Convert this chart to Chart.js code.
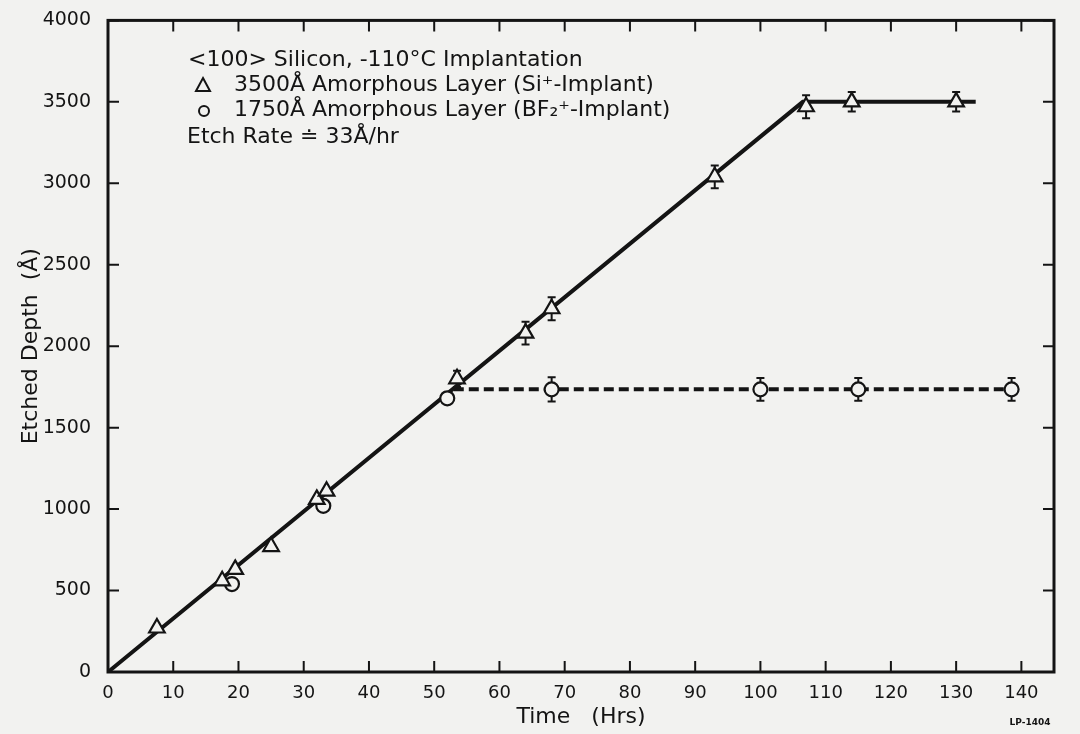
<!DOCTYPE html>
<html>
<head>
<meta charset="utf-8">
<title>Etched Depth vs Time</title>
<script src="https://cdn.jsdelivr.net/npm/chart.js@4/dist/chart.umd.min.js"></script>
<style>
  html, body { margin: 0; padding: 0; background: #f2f2f0; }
  canvas { display: block; }
</style>
</head>
<body>
<canvas id="chart" width="1080" height="734"></canvas>
<script>
// Si+ implant (triangles), 3500 A amorphous layer
const siTime  = [7.5, 17.5, 19.5, 25, 32, 33.5, 53.5, 64, 68, 93, 107, 114, 130];
const siDepth = [270, 560, 630, 770, 1060, 1110, 1800, 2080, 2230, 3040, 3470, 3500, 3500];
const siErr   = [0, 0, 0, 0, 0, 0, 50, 70, 70, 70, 70, 60, 60];

// BF2+ implant (circles), 1750 A amorphous layer
const bfTime  = [19, 33, 52, 68, 100, 115, 138.5];
const bfDepth = [540, 1020, 1680, 1735, 1735, 1735, 1735];
const bfErr   = [0, 0, 35, 75, 70, 70, 70];

// fitted etch lines (33 A/hr, then saturation)
const siFitTime  = [0, 106.5, 133];
const siFitDepth = [0, 3500, 3500];
const bfFitTime  = [53, 139];
const bfFitDepth = [1735, 1735];

const xTicks = [0, 10, 20, 30, 40, 50, 60, 70, 80, 90, 100, 110, 120, 130, 140];
const yTicks = [0, 500, 1000, 1500, 2000, 2500, 3000, 3500, 4000];

const legendLines = [
  '<100> Silicon, -110\u00B0C Implantation',
  '3500\u00C5 Amorphous Layer (Si\u207A-Implant)',
  '1750\u00C5 Amorphous Layer (BF\u2082\u207A-Implant)',
  'Etch Rate \u2250 33\u00C5/hr'
];

const INK = '#141414';
const PAPER = '#f2f2f0';
const FONT = "'DejaVu Sans', sans-serif";

const pts = (xs, ys) => xs.map((x, i) => ({ x: x, y: ys[i] }));

// error bars under the markers
const errorBars = {
  id: 'errorBars',
  beforeDatasetsDraw(chart) {
    const { ctx, scales: { x, y } } = chart;
    ctx.save();
    ctx.strokeStyle = INK;
    ctx.lineWidth = 2;
    const draw = (xs, ys, es) => xs.forEach((t, i) => {
      if (!es[i]) return;
      const px = x.getPixelForValue(t);
      const top = y.getPixelForValue(ys[i] + es[i]);
      const bot = y.getPixelForValue(ys[i] - es[i]);
      ctx.beginPath();
      ctx.moveTo(px, top); ctx.lineTo(px, bot);
      ctx.moveTo(px - 4, top); ctx.lineTo(px + 4, top);
      ctx.moveTo(px - 4, bot); ctx.lineTo(px + 4, bot);
      ctx.stroke();
    });
    draw(siTime, siDepth, siErr);
    draw(bfTime, bfDepth, bfErr);
    ctx.restore();
  }
};

// box frame with inward ticks on all four sides, plus the key text
const frame = {
  id: 'frame',
  afterDraw(chart) {
    const { ctx, chartArea: a, scales: { x, y } } = chart;
    ctx.save();
    ctx.strokeStyle = INK;
    ctx.lineWidth = 3;
    ctx.strokeRect(a.left, a.top, a.right - a.left, a.bottom - a.top);

    ctx.lineWidth = 2;
    ctx.beginPath();
    xTicks.forEach(v => {
      const px = x.getPixelForValue(v);
      ctx.moveTo(px, a.bottom); ctx.lineTo(px, a.bottom - 11);
      ctx.moveTo(px, a.top); ctx.lineTo(px, a.top + 11);
    });
    yTicks.forEach(v => {
      const py = y.getPixelForValue(v);
      ctx.moveTo(a.left, py); ctx.lineTo(a.left + 11, py);
      ctx.moveTo(a.right, py); ctx.lineTo(a.right - 11, py);
    });
    ctx.stroke();

    // key
    ctx.fillStyle = INK;
    ctx.textBaseline = 'middle';
    ctx.font = '22px ' + FONT;
    ctx.fillText(legendLines[0], 188, 60);
    ctx.fillText(legendLines[1], 234, 85);
    ctx.fillText(legendLines[2], 234, 110);
    ctx.fillText(legendLines[3], 187, 137);

    // key symbols
    ctx.lineWidth = 2;
    ctx.beginPath();
    ctx.moveTo(203, 78); ctx.lineTo(210, 91); ctx.lineTo(196, 91); ctx.closePath();
    ctx.stroke();
    ctx.beginPath();
    ctx.arc(204, 111, 5, 0, Math.PI * 2);
    ctx.stroke();

    ctx.font = 'bold 9px ' + FONT;
    ctx.textAlign = 'center';
    ctx.fillText('LP-1404', 1030, 723);
    ctx.restore();
  }
};

new Chart(document.getElementById('chart'), {
  type: 'scatter',
  data: {
    datasets: [
      {
        label: 'Si+',
        data: pts(siTime, siDepth),
        pointStyle: 'triangle',
        pointRadius: 9,
        pointBackgroundColor: PAPER,
        pointBorderColor: INK,
        pointBorderWidth: 2.2,
        order: 0
      },
      {
        label: 'BF2+',
        data: pts(bfTime, bfDepth),
        pointStyle: 'circle',
        pointRadius: 7,
        pointBackgroundColor: PAPER,
        pointBorderColor: INK,
        pointBorderWidth: 2.2,
        order: 0
      },
      {
        label: 'Si+ fit',
        data: pts(siFitTime, siFitDepth),
        showLine: true,
        borderColor: INK,
        borderWidth: 4,
        pointRadius: 0,
        order: 1
      },
      {
        label: 'BF2+ fit',
        data: pts(bfFitTime, bfFitDepth),
        showLine: true,
        borderColor: INK,
        borderWidth: 4,
        borderDash: [10, 5],
        pointRadius: 0,
        order: 1
      }
    ]
  },
  options: {
    responsive: false,
    animation: false,
    layout: { padding: { top: 19, right: 26, left: 0, bottom: 0 } },
    plugins: { legend: { display: false }, tooltip: { enabled: false } },
    scales: {
      x: {
        type: 'linear',
        min: 0,
        max: 145,
        afterBuildTicks: s => { s.ticks = xTicks.map(v => ({ value: v })); },
        afterFit: s => { s.height = 62; },
        grid: { display: false },
        border: { display: false },
        ticks: { color: INK, font: { family: FONT, size: 18 }, padding: 3, maxRotation: 0, callback: v => String(v) },
        title: {
          display: true,
          text: 'Time   (Hrs)',
          color: INK,
          font: { family: FONT, size: 22 },
          padding: { top: 0, bottom: 4 }
        }
      },
      y: {
        type: 'linear',
        min: 0,
        max: 4000,
        afterBuildTicks: s => { s.ticks = yTicks.map(v => ({ value: v })); },
        afterFit: s => { s.width = 108; },
        grid: { display: false },
        border: { display: false },
        ticks: { color: INK, font: { family: FONT, size: 19 }, padding: 9, callback: v => String(v) },
        title: {
          display: true,
          text: 'Etched Depth  (\u00C5)',
          color: INK,
          font: { family: FONT, size: 22 },
          padding: { top: 18, bottom: 0 }
        }
      }
    }
  },
  plugins: [errorBars, frame]
});
</script>
</body>
</html>
